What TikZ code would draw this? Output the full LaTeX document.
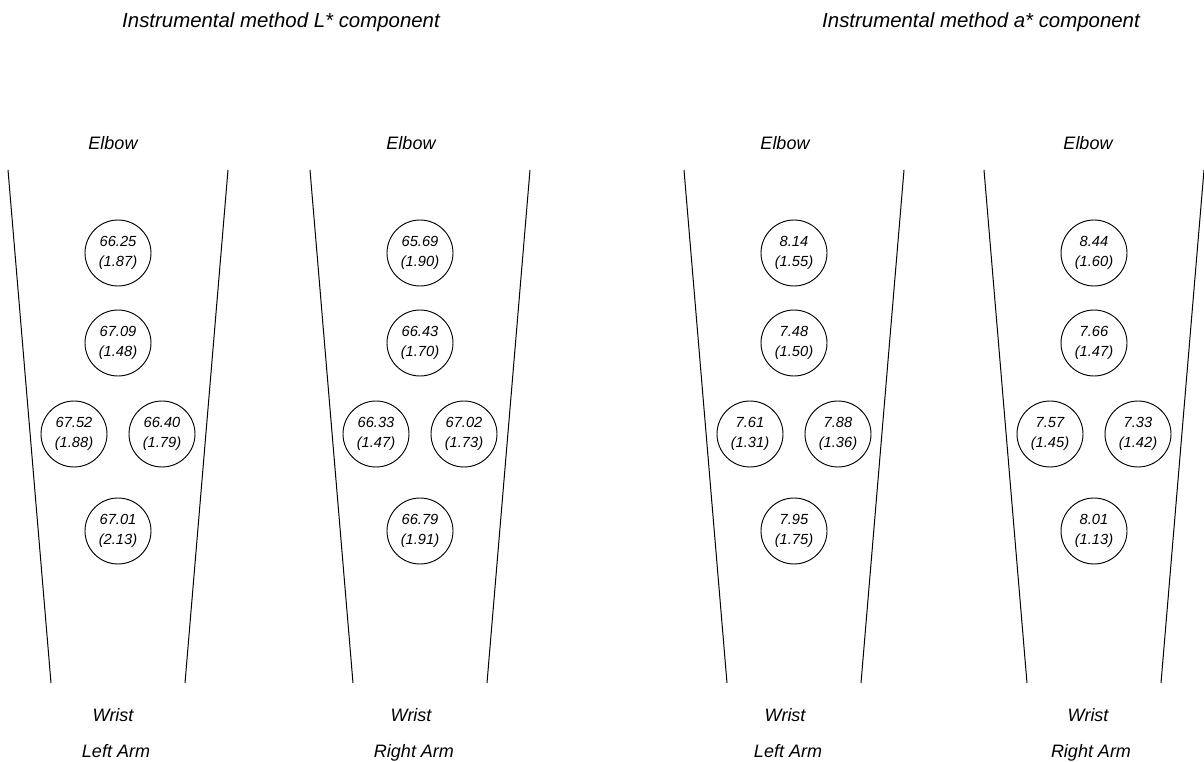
\documentclass[tikz,border=0pt]{standalone}
\usepackage{fontspec}
\setmainfont{Liberation Sans}
\begin{document}
\begin{tikzpicture}[x=0.75pt,y=-0.75pt,
  site/.style={circle, draw, line width=0.7pt, minimum size=49.5pt, inner sep=0pt,
    align=center, font=\fontsize{11}{15.5}\selectfont\itshape},
  armline/.style={line width=0.75pt},
  lab/.style={anchor=base, font=\fontsize{13.5}{16}\selectfont\itshape},
  ttl/.style={font=\fontsize{15.3}{18}\selectfont\itshape}]
\useasboundingbox (0,0) rectangle (1204,762);

% headings of the two halves
\node[ttl] (titleL) at (281,22) {Instrumental method L* component};
\node[ttl] (titleA) at (981,22) {Instrumental method a* component};

% one forearm outline per panel: axis x, label x, arm name, five sites (mean, sd)
\foreach \n/\ax/\lx/\side/\pa/\sa/\pb/\sb/\pc/\sc/\pd/\sd/\pe/\se in {
  p1/118/113/Left Arm/66.25/1.87/67.09/1.48/67.52/1.88/66.40/1.79/67.01/2.13,
  p2/420/411/Right Arm/65.69/1.90/66.43/1.70/66.33/1.47/67.02/1.73/66.79/1.91,
  p3/794/785/Left Arm/8.14/1.55/7.48/1.50/7.61/1.31/7.88/1.36/7.95/1.75,
  p4/1094/1088/Right Arm/8.44/1.60/7.66/1.47/7.57/1.45/7.33/1.42/8.01/1.13}{
  \coordinate (\n-tl) at (\ax-110,170);
  \coordinate (\n-bl) at (\ax-67,683);
  \coordinate (\n-tr) at (\ax+110,170);
  \coordinate (\n-br) at (\ax+67,683);
  \draw[armline] (\n-tl) -- (\n-bl);
  \draw[armline] (\n-tr) -- (\n-br);
  \node[site] (\n-s1) at (\ax,253) {\pa\\(\sa)};
  \node[site] (\n-s2) at (\ax,343) {\pb\\(\sb)};
  \node[site] (\n-s3) at (\ax-44,434) {\pc\\(\sc)};
  \node[site] (\n-s4) at (\ax+44,434) {\pd\\(\sd)};
  \node[site] (\n-s5) at (\ax,531) {\pe\\(\se)};
  \node[lab] (\n-elbow) at (\lx,150) {Elbow};
  \node[lab] (\n-wrist) at (\lx,722) {Wrist};
  \node[lab] (\n-arm) at (\lx+3,758) {\side};
}
\end{tikzpicture}
\end{document}
